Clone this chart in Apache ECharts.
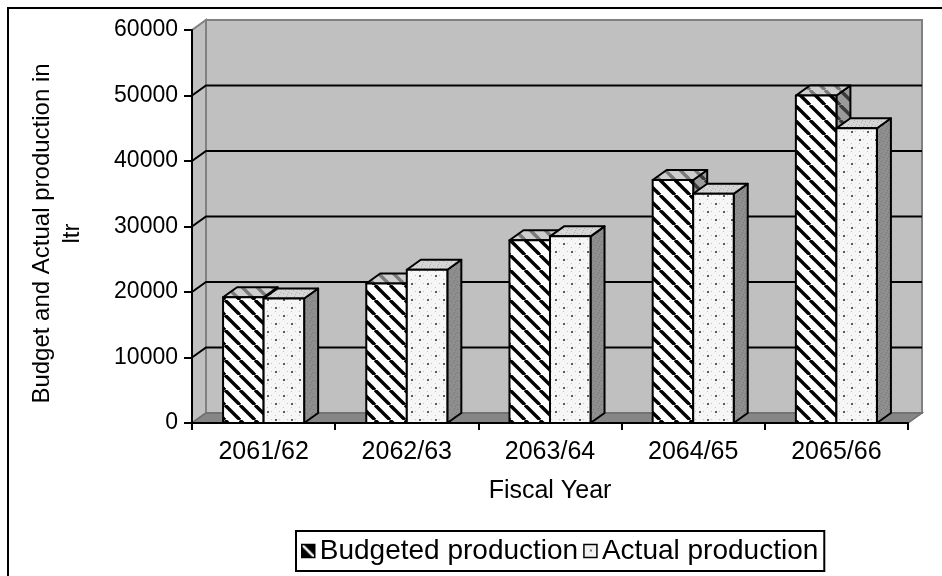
<!DOCTYPE html>
<html>
<head>
<meta charset="utf-8">
<script src="https://cdn.jsdelivr.net/npm/echarts@6/dist/echarts.min.js"></script>
<style>
  html, body { margin: 0; padding: 0; background: #ffffff; }
  #chart { width: 942px; height: 576px; }
</style>
</head>
<body>
<div id="chart"></div>
<script>
// Production figures per fiscal year (litres)
const categories = ['2061/62', '2062/63', '2063/64', '2064/65', '2065/66'];
const budgeted = [19200, 21300, 27900, 37100, 50000];
const actual = [19000, 23400, 28500, 35000, 45000];
const yTicks = [0, 10000, 20000, 30000, 40000, 50000, 60000];
const seriesNames = ['Budgeted production', 'Actual production'];

const FONT = '"Liberation Sans", Arial, sans-serif';
// Pseudo-3D depth offset of walls and columns, in pixels
const DEPTH_X = 14;
const DEPTH_Y = -10;

// ---- fill patterns -------------------------------------------------------
function makeTile(size, bg, draw) {
  const c = document.createElement('canvas');
  c.width = size;
  c.height = size;
  const g = c.getContext('2d');
  g.fillStyle = bg;
  g.fillRect(0, 0, size, size);
  draw(g, size);
  return { image: c, repeat: 'repeat' };
}

function stripes(bg, fg, width) {
  return makeTile(15, bg, function (g, s) {
    g.strokeStyle = fg;
    g.lineWidth = width;
    for (let k = -1; k <= 1; k++) {
      g.beginPath();
      g.moveTo(k * s, 0);
      g.lineTo(k * s + s, s);
      g.stroke();
    }
  });
}

function dots(bg, dot, faint) {
  return makeTile(16, bg, function (g) {
    g.fillStyle = faint;
    [[7, 3], [15, 3], [3, 7], [11, 7], [7, 11], [15, 11], [3, 15], [11, 15]].forEach(function (p) {
      g.fillRect(p[0], p[1], 1, 1);
    });
    g.fillStyle = dot;
    g.fillRect(3, 3, 2, 2);
    g.fillRect(11, 11, 2, 2);
  });
}

function speckle(bg, fg) {
  return makeTile(8, bg, function (g) {
    g.fillStyle = fg;
    [[1, 1], [5, 2], [3, 5], [7, 6], [0, 4], [6, 0]].forEach(function (p) {
      g.fillRect(p[0], p[1], 1, 1);
    });
  });
}

const faces = [
  {
    front: stripes('#ffffff', '#000000', 3.4),
    top: stripes('#cfcfcf', '#7a7a7a', 3.4),
    side: stripes('#9a9a9a', '#3a3a3a', 3.4)
  },
  {
    front: dots('#f6f6f6', '#5a5a5a', '#c4c4c4'),
    top: speckle('#d6d6d6', '#b0b0b0'),
    side: speckle('#8e8e8e', '#767676')
  }
];

const legendIcons = [
  makeTile(13, '#000000', function (g, s) {
    g.strokeStyle = '#ffffff';
    g.lineWidth = 2.5;
    g.beginPath();
    g.moveTo(0, 0);
    g.lineTo(s, s);
    g.stroke();
  }),
  makeTile(13, '#f2f2f2', function (g) {
    g.fillStyle = '#6a6a6a';
    g.fillRect(6, 5, 2, 2);
  })
];

// ---- renderers -----------------------------------------------------------
function renderWalls(params, api) {
  const cs = params.coordSys;
  const left = cs.x, right = cs.x + cs.width;
  const floorY = api.coord([0, yTicks[0]])[1];
  const topY = api.coord([0, yTicks[yTicks.length - 1]])[1];
  const children = [];

  // side wall on the left
  children.push({
    type: 'polygon',
    shape: { points: [[left, topY], [left + DEPTH_X, topY + DEPTH_Y], [left + DEPTH_X, floorY + DEPTH_Y], [left, floorY]] },
    style: { fill: '#c0c0c0', stroke: '#808080', lineWidth: 2 }
  });
  // back wall
  children.push({
    type: 'rect',
    shape: { x: left + DEPTH_X, y: topY + DEPTH_Y, width: right - left, height: floorY - topY },
    style: { fill: '#c0c0c0', stroke: '#808080', lineWidth: 2 }
  });
  // floor
  children.push({
    type: 'polygon',
    shape: { points: [[left, floorY], [right, floorY], [right + DEPTH_X, floorY + DEPTH_Y], [left + DEPTH_X, floorY + DEPTH_Y]] },
    style: { fill: '#868686', stroke: '#6e6e6e', lineWidth: 1.5 }
  });
  // gridlines folded across the side wall and the back wall
  for (let i = 1; i < yTicks.length - 1; i++) {
    const y = api.coord([0, yTicks[i]])[1];
    children.push({
      type: 'polyline',
      shape: { points: [[left, y], [left + DEPTH_X, y + DEPTH_Y], [right + DEPTH_X, y + DEPTH_Y]] },
      style: { stroke: '#000000', lineWidth: 2, fill: null }
    });
  }
  return { type: 'group', children: children };
}

function barRenderer(slot) {
  return function (params, api) {
    const idx = api.value(0);
    const val = api.value(1);
    const base = api.coord([idx, 0]);
    const head = api.coord([idx, val]);
    const band = api.size([1, 0])[0];
    const w = band * 0.283;
    const x0 = base[0] + (slot === 0 ? -w : 0);
    const x1 = x0 + w;
    const y0 = base[1];
    const y1 = head[1];
    const f = faces[slot];
    const edge = { stroke: '#000000', lineWidth: 2, lineJoin: 'round' };
    return {
      type: 'group',
      children: [
        {
          type: 'polygon',
          shape: { points: [[x1, y1], [x1 + DEPTH_X, y1 + DEPTH_Y], [x1 + DEPTH_X, y0 + DEPTH_Y], [x1, y0]] },
          style: Object.assign({ fill: f.side }, edge)
        },
        {
          type: 'polygon',
          shape: { points: [[x0, y1], [x0 + DEPTH_X, y1 + DEPTH_Y], [x1 + DEPTH_X, y1 + DEPTH_Y], [x1, y1]] },
          style: Object.assign({ fill: f.top }, edge)
        },
        {
          type: 'rect',
          shape: { x: x0, y: y1, width: w, height: y0 - y1 },
          style: Object.assign({ fill: f.front }, edge)
        }
      ]
    };
  };
}

function toPoints(values) {
  return values.map(function (v, i) { return [i, v]; });
}

// ---- chart -------------------------------------------------------------
const chart = echarts.init(document.getElementById('chart'), null, { renderer: 'canvas' });

chart.setOption({
  animation: false,
  backgroundColor: '#ffffff',
  textStyle: { fontFamily: FONT, color: '#000000' },
  graphic: [
    {
      type: 'rect',
      shape: { x: 8, y: 8, width: 1200, height: 900 },
      style: { fill: null, stroke: '#000000', lineWidth: 2 },
      silent: true,
      z: 0
    }
  ],
  grid: { left: 192, right: 34, top: 30, bottom: 153, containLabel: false },
  legend: {
    data: [
      { name: seriesNames[0], itemStyle: { color: legendIcons[0], borderColor: '#000000', borderWidth: 1.5 } },
      { name: seriesNames[1], itemStyle: { color: legendIcons[1], borderColor: '#000000', borderWidth: 1.5 } }
    ],
    icon: 'rect',
    left: 296,
    top: 531,
    itemWidth: 13,
    itemHeight: 13,
    itemGap: 5,
    padding: [6, 6, 6, 5],
    borderColor: '#000000',
    borderWidth: 2,
    backgroundColor: '#ffffff',
    selectedMode: false,
    textStyle: { fontFamily: FONT, fontSize: 28, color: '#000000' }
  },
  xAxis: {
    type: 'category',
    data: categories,
    z: 10,
    name: 'Fiscal Year',
    nameLocation: 'middle',
    nameGap: 56,
    nameTextStyle: { fontFamily: FONT, fontSize: 25, color: '#000000' },
    axisLine: { show: true, lineStyle: { color: '#000000', width: 2 } },
    axisTick: { show: true, length: 7, lineStyle: { color: '#000000', width: 2 } },
    axisLabel: { fontFamily: FONT, fontSize: 25, color: '#000000', margin: 17 },
    splitLine: { show: false }
  },
  yAxis: {
    type: 'value',
    min: 0,
    max: 60000,
    interval: 10000,
    z: 10,
    name: 'Budget and Actual production in\nltr',
    nameLocation: 'middle',
    nameRotate: 90,
    nameGap: 105,
    nameTextStyle: { fontFamily: FONT, fontSize: 24, lineHeight: 30, color: '#000000', align: 'center', padding: [0, 14, 0, 0] },
    axisLine: { show: true, lineStyle: { color: '#000000', width: 2 } },
    axisTick: { show: true, length: 8, lineStyle: { color: '#000000', width: 2 } },
    axisLabel: {
      fontFamily: FONT,
      fontSize: 23,
      color: '#000000',
      margin: 14,
      formatter: function (v) { return String(v); }
    },
    splitLine: { show: false }
  },
  series: [
    {
      type: 'custom',
      name: 'walls',
      z: 1,
      silent: true,
      clip: false,
      renderItem: renderWalls,
      data: [[0, 0]],
      encode: { x: 0, y: 1 }
    },
    {
      type: 'custom',
      name: seriesNames[0],
      z: 3,
      clip: false,
      itemStyle: { color: legendIcons[0] },
      renderItem: barRenderer(0),
      data: toPoints(budgeted),
      encode: { x: 0, y: 1 }
    },
    {
      type: 'custom',
      name: seriesNames[1],
      z: 3,
      clip: false,
      itemStyle: { color: legendIcons[1] },
      renderItem: barRenderer(1),
      data: toPoints(actual),
      encode: { x: 0, y: 1 }
    }
  ]
});
</script>
</body>
</html>
